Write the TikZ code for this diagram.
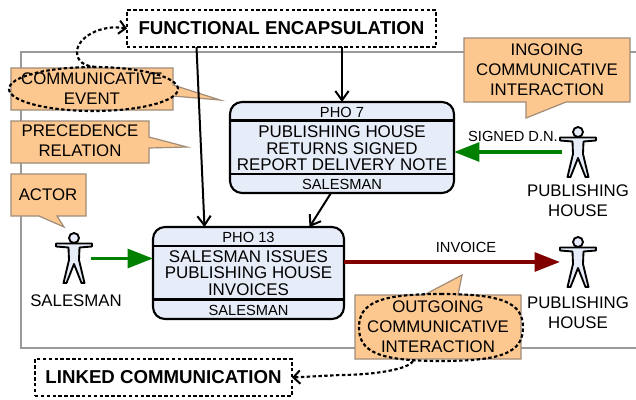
\documentclass[tikz,border=0pt]{standalone}
\usepackage{fontspec}
\setmainfont{Liberation Sans}
\usetikzlibrary{arrows.meta,calc,shapes.geometric}
\definecolor{calloutfill}{HTML}{FDC88F}
\definecolor{calloutline}{HTML}{A08C78}
\definecolor{taskfill}{HTML}{E6ECF8}
\definecolor{framegray}{HTML}{9A9A9A}
\definecolor{flowgreen}{HTML}{008000}
\definecolor{flowred}{HTML}{800000}
\newcommand{\actorfig}[2]{%
  \begin{scope}[shift={(#1,#2)}]
    \draw[figline] (-2,5.5) -- (-18,5.5) -- (-18,8.5) -- (-5.5,9.5) -- (-5,22) -- (-10.5,45) -- (-7.5,45) -- (0,26) -- (7.5,45) -- (10.5,45) -- (5,22) -- (5.5,9.5) -- (18,8.5) -- (18,5.5) -- (2,5.5) -- cycle;
    \draw[figline] (0,0) circle [radius=5];
  \end{scope}}
\tikzset{
  figline/.style={draw=black,fill=taskfill,line width=1.4pt,line join=round},
  calloutbox/.style={fill=calloutfill,draw=calloutline,line width=0.9pt},
  lbl/.style={inner sep=0pt,outer sep=0pt,align=center,font=\fontsize{12.6pt}{15pt}\selectfont},
  tasktext/.style={inner sep=0pt,outer sep=0pt,align=center,font=\fontsize{12.7pt}{12.3pt}\selectfont},
  tasksmall/.style={inner sep=0pt,outer sep=0pt,font=\fontsize{11pt}{13pt}\selectfont},
  taskbox/.style={draw=black,fill=taskfill,line width=1.6pt,rounded corners=9pt,inner sep=0pt,outer sep=0pt},
  divider/.style={line width=1.6pt},
  dashbox/.style={draw=black,fill=white,line width=1.6pt,dash pattern=on 2.6pt off 1.8pt,inner sep=0pt,outer sep=0pt,font=\bfseries\fontsize{14pt}{16pt}\selectfont},
  dashring/.style={draw=black,line width=1.6pt,dash pattern=on 2.6pt off 1.8pt,inner sep=0pt,outer sep=0pt},
  dashlink/.style={line width=1.6pt,dash pattern=on 2.6pt off 1.8pt,-{Straight Barb[length=5pt,width=10pt,line width=1.5pt]}},
  blackflow/.style={line width=1.5pt,-{Straight Barb[length=7pt,width=10pt,line width=1.5pt]}},
  greenflow/.style={draw=flowgreen,line width=2.8pt,-{Triangle[length=19pt,width=14pt,fill=flowgreen]}},
  redflow/.style={draw=flowred,line width=2.8pt,-{Triangle[length=19pt,width=14pt,fill=flowred]}},
}
\begin{document}
\begin{tikzpicture}[x=0.75pt,y=-0.75pt]
\useasboundingbox (0,0) rectangle (636,400);
\fill[white] (0,0) rectangle (636,400);
\begin{scope}
\clip (0,0) rectangle (636,400);
\draw[framegray,line width=0.9pt] (21,52) rectangle (650,348);
\end{scope}
% callouts
\draw[calloutbox] (11,68) -- (173,68) -- (173,85) -- (220,100) -- (173,96) -- (173,110) -- (11,110) -- cycle;
\draw[calloutbox] (11,121) -- (149,121) -- (149,137) -- (187,147) -- (149,148) -- (149,163) -- (11,163) -- cycle;
\draw[calloutbox] (11,174) -- (86,174) -- (86,216) -- (57,216) -- (64,227) -- (39,216) -- (11,216) -- cycle;
\draw[calloutbox] (464,38) -- (630,38) -- (630,102) -- (566,102) -- (526,118) -- (526,102) -- (464,102) -- cycle;
\draw[calloutbox] (355,295) -- (424,295) -- (462,275) -- (458,295) -- (521,295) -- (521,359) -- (355,359) -- cycle;
\node[lbl] (ce) at (92,88.5) {COMMUNICATIVE\\EVENT};
\node[lbl] (pr) at (80,141) {PRECEDENCE\\RELATION};
\node[lbl] (ac) at (48,195) {ACTOR};
\node[lbl] (in) at (547,70) {INGOING\\COMMUNICATIVE\\INTERACTION};
\node[lbl] (out) at (438,327) {OUTGOING\\COMMUNICATIVE\\INTERACTION};
% dashed rings
\node[dashring,ellipse,minimum width=169*0.75pt,minimum height=44*0.75pt] (ring1) at (93.5,89) {};
\draw[dashring] (441,294) .. controls (503,294) and (523,303) .. (523,327.5) .. controls (523,352) and (503,361) .. (441,361) .. controls (379,361) and (359,352) .. (359,327.5) .. controls (359,303) and (379,294) .. (441,294) -- cycle;
\coordinate (ring2start) at (413,361);
% dashed boxes
\node[dashbox,minimum width=309*0.75pt,minimum height=37*0.75pt] (fe) at (281.5,28.5) {FUNCTIONAL ENCAPSULATION};
\node[dashbox,minimum width=257*0.75pt,minimum height=37*0.75pt] (lc) at (163.5,377.5) {LINKED COMMUNICATION};
% tasks
\node[taskbox,minimum width=224*0.75pt,minimum height=91*0.75pt] (pho7) at (342,147.5) {};
\node[taskbox,minimum width=191*0.75pt,minimum height=92*0.75pt] (pho13) at (248.5,273) {};
\draw[divider] (230,120.5) -- (454,120.5);
\draw[divider] (230,174) -- (454,174);
\draw[divider] (153,246) -- (344,246);
\draw[divider] (153,299.5) -- (344,299.5);
\node[tasksmall] (t7a) at (342,112) {PHO 7};
\node[tasktext] (t7b) at (342,148.5) {PUBLISHING HOUSE\\RETURNS SIGNED\\REPORT DELIVERY NOTE};
\node[tasksmall] (t7c) at (342,184.5) {SALESMAN};
\node[tasksmall] (t13a) at (248.5,237) {PHO 13};
\node[tasktext] (t13b) at (248.5,273) {SALESMAN ISSUES\\PUBLISHING HOUSE\\INVOICES};
\node[tasksmall] (t13c) at (248.5,310) {SALESMAN};
% actors
\actorfig{74}{238}
\actorfig{578}{132}
\actorfig{578}{242}
\node[lbl] (a1) at (76,301) {SALESMAN};
\node[lbl] (a2) at (578,201) {PUBLISHING\\HOUSE};
\node[lbl] (a3) at (578,313) {PUBLISHING\\HOUSE};
\coordinate (a1hand) at (91,258.5);
\coordinate (a2hand) at (562,152);
\coordinate (a3hand) at (560,262);
% connectors
\draw[blackflow] ($(fe.south)+(-85,0)$) -- ($(pho13.north)+(-44,0)$);
\draw[blackflow] (fe.south -| pho7.north) -- (pho7.north);
\draw[blackflow] ($(pho7.south)+(-11,0)$) -- ($(pho13.north)+(61,0)$);
\draw[greenflow] (a1hand) -- (pho13.west |- a1hand);
\draw[greenflow] (a2hand) -- (pho7.east |- a2hand);
\draw[redflow] (pho13.east |- a3hand) -- (a3hand);
\node[tasksmall] (l1) at (513,136) {SIGNED D.N.};
\node[tasksmall] (l2) at (466,247) {INVOICE};
\draw[dashlink] (ring1.85) .. controls (85,66) and (77,62) .. (77,52) .. controls (77,38) and (100,24) .. (fe.west);
\draw[dashlink] (ring2start) .. controls (408,370) and (370,375) .. (340,375) -- (lc.east);
\end{tikzpicture}
\end{document}
